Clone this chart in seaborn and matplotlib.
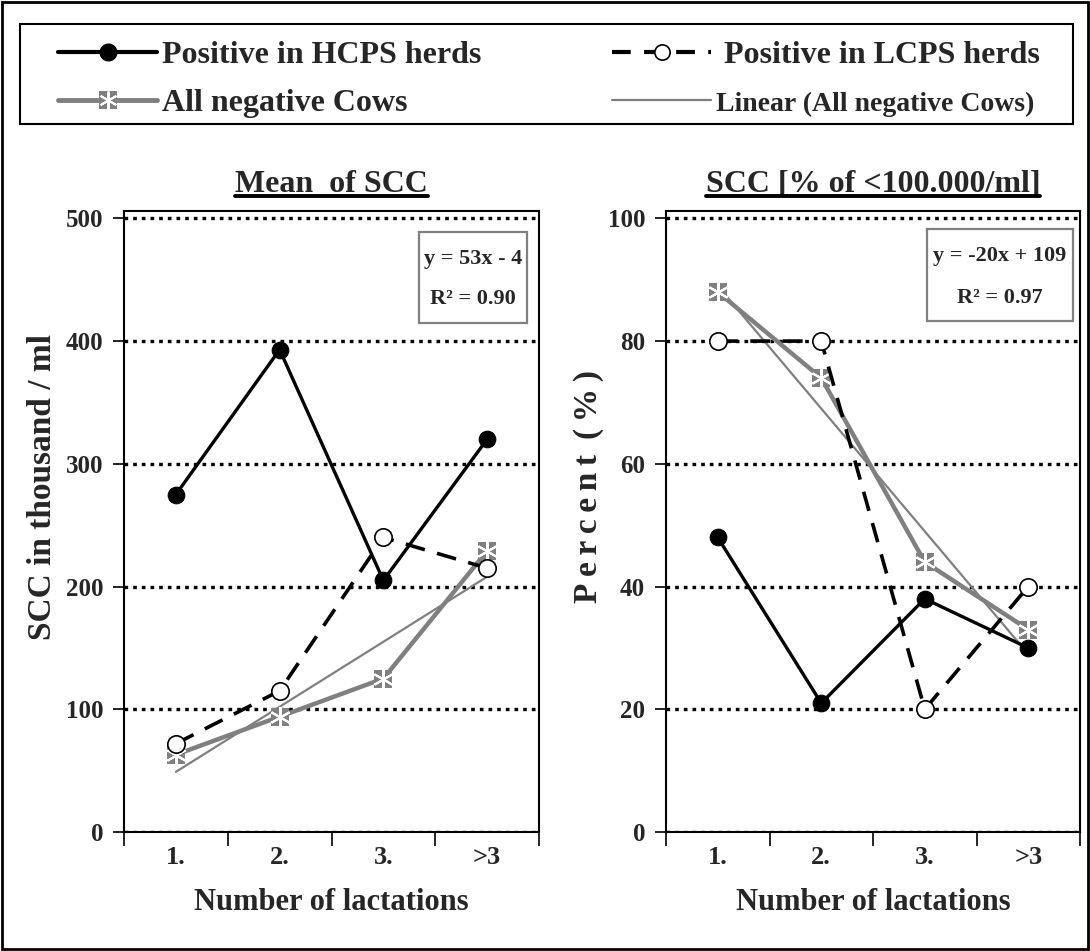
import numpy as np
import pandas as pd
import matplotlib
matplotlib.use("Agg")
import matplotlib.pyplot as plt
from matplotlib.lines import Line2D
from matplotlib.patches import Rectangle
from matplotlib.legend_handler import HandlerTuple
import seaborn as sns

# Lactation classes
lactations = ["1.", "2.", "3.", ">3"]

# Mean SCC (thousand / ml)
scc_hcps = [275, 393, 205, 320]
scc_lcps = [72, 115, 240, 215]
scc_neg = [63, 94, 125, 229]
scc_trend = (53, -4)          # y = 53x - 4
scc_r2 = "0.90"

# Share of samples below 100.000 cells / ml (%)
pct_hcps = [48, 21, 38, 30]
pct_lcps = [80, 80, 20, 40]
pct_neg = [88, 74, 44, 33]
pct_trend = (-20, 109)        # y = -20x + 109
pct_r2 = "0.97"

sns.set_theme(style="white")
plt.rcParams["font.family"] = ["Liberation Serif", "DejaVu Serif"]
plt.rcParams["font.weight"] = "bold"
plt.rcParams["axes.labelweight"] = "bold"
plt.rcParams["axes.titleweight"] = "bold"

GRAY = "#808080"
W, H = 1090, 951
fig = plt.figure(figsize=(W / 100, H / 100), dpi=100)
fig.patch.set_facecolor("white")

ax1 = fig.add_axes([124 / W, 119 / H, 415 / W, 621 / H])
ax2 = fig.add_axes([666 / W, 119 / H, 414 / W, 621 / H])

LCPS_DASH = (0, (5.5, 3.5))
STAR = (6, 2, 0)


def draw_panel(ax, hcps, lcps, neg, trend, r2, ymax, ystep, ylabel, ylabel_x, title, box, text_xy):
    x = np.arange(len(lactations)) + 0.5
    df = pd.DataFrame({"x": x, "hcps": hcps, "lcps": lcps, "neg": neg})

    # fitted trend of the negative cows, from category 1 to category 4
    xs = np.array([1, 4])
    trend_df = pd.DataFrame({"x": xs - 0.5, "y": trend[0] * xs + trend[1]})

    sns.lineplot(data=trend_df, x="x", y="y", ax=ax, color=GRAY, lw=1.6, zorder=3)
    sns.lineplot(data=df, x="x", y="neg", ax=ax, color=GRAY, lw=3.2, marker="s",
                 markersize=13.5, markeredgewidth=0, markerfacecolor=GRAY, zorder=4)
    sns.lineplot(data=df, x="x", y="neg", ax=ax, color="none", lw=0, marker=STAR,
                 markersize=15, markeredgewidth=1.5, markeredgecolor="white", zorder=5)
    sns.lineplot(data=df, x="x", y="lcps", ax=ax, color="black", lw=2.6,
                 linestyle=LCPS_DASH, marker="o", markersize=12.5,
                 markerfacecolor="white", markeredgecolor="black", markeredgewidth=1.2, zorder=6)
    sns.lineplot(data=df, x="x", y="hcps", ax=ax, color="black", lw=2.4, marker="o",
                 markersize=12, markerfacecolor="black", markeredgecolor="black", zorder=7)

    ax.set_xlim(0, 4)
    ax.set_ylim(0, ymax * 1.012)
    yt = np.arange(0, ymax + 1, ystep)
    ax.set_yticks(yt)
    ax.set_yticklabels([str(v) for v in yt], fontsize=18, fontweight="bold")
    ax.set_xticks([0, 1, 2, 3, 4])
    ax.set_xticklabels([])
    ax.set_xticks(x, minor=True)
    ax.set_xticklabels(lactations, minor=True, fontsize=19, fontweight="bold")
    ax.tick_params(axis="y", which="major", direction="out", length=8, width=1.2, color="black", pad=7, left=True)
    ax.tick_params(axis="x", which="major", direction="out", length=10, width=1.2, color="black", bottom=True)
    ax.tick_params(axis="x", which="minor", length=0, pad=10)

    ax.yaxis.grid(True, color="black", lw=2.4, linestyle=(0, (1.1, 1.5)))
    ax.xaxis.grid(False)
    ax.set_axisbelow(True)
    for s in ax.spines.values():
        s.set_visible(True)
        s.set_color("black")
        s.set_linewidth(1.5)

    ax.set_xlabel("Number of lactations", fontsize=22, fontweight="bold", labelpad=14)
    ax.set_ylabel(ylabel, fontsize=24, fontweight="bold")
    ax.yaxis.set_label_coords(ylabel_x, 0.556)
    ax.set_title(title, fontsize=23, fontweight="bold", pad=14)

    # regression equation in a gray box
    ax.add_patch(Rectangle((box[0], box[1]), box[2] - box[0], box[3] - box[1], transform=ax.transAxes,
                           facecolor="white", edgecolor=GRAY, lw=1.6, zorder=8))
    sign = "-" if trend[1] < 0 else "+"
    ax.text(text_xy[0], text_xy[1], f"y = {trend[0]}x {sign} {abs(trend[1])}", transform=ax.transAxes,
            ha="center", va="center", fontsize=16, fontweight="bold", zorder=9)
    ax.text(text_xy[0], text_xy[2], f"R² = {r2}", transform=ax.transAxes,
            ha="center", va="center", fontsize=16, fontweight="bold", zorder=9)


draw_panel(ax1, scc_hcps, scc_lcps, scc_neg, scc_trend, scc_r2, 500, 100,
           "SCC in thousand / ml", -0.158, "Mean  of SCC",
           (0.711, 0.820, 0.971, 0.966), (0.841, 0.922, 0.858))
draw_panel(ax2, pct_hcps, pct_lcps, pct_neg, pct_trend, pct_r2, 100, 20,
           "P\u2009e\u2009r\u2009c\u2009e\u2009n\u2009t\u2009 (\u2009%\u2009)", -0.150, "SCC [% of <100.000/ml]",
           (0.630, 0.823, 0.983, 0.971), (0.807, 0.927, 0.860))

# Shared legend across the top
h_hcps = Line2D([], [], color="black", lw=3, marker="o", markersize=12, markerfacecolor="black")
h_neg = (Line2D([], [], color=GRAY, lw=3.5, marker="s", markersize=13, markerfacecolor=GRAY, markeredgewidth=0),
         Line2D([], [], color="none", lw=0, marker=STAR, markersize=13, markeredgecolor="white",
                markeredgewidth=1.4))
h_lcps = Line2D([], [], color="black", lw=3, linestyle=(0, (4.5, 3.2)), marker="o", markersize=11,
                markerfacecolor="white", markeredgewidth=1.2)
h_lin = Line2D([], [], color=GRAY, lw=1.6)
labels = ["Positive in HCPS herds", "All negative Cows", " Positive in LCPS herds", "Linear (All negative Cows)"]
leg = fig.legend([h_hcps, h_neg, h_lcps, h_lin], labels, ncol=2, loc="upper left", mode="expand",
                 bbox_to_anchor=(58 / W, 1 - 124 / H, (1040 - 58) / W, 83 / H),
                 prop=dict(family="Liberation Serif", weight="bold", size=23),
                 handler_map={tuple: HandlerTuple(ndivide=1)},
                 frameon=False, handlelength=3.1, handletextpad=0.15, columnspacing=4,
                 borderpad=0, labelspacing=0.58, borderaxespad=0)
leg.get_texts()[3].set_fontsize(20)

# Legend frame
fig.add_artist(Rectangle((20 / W, 1 - 124 / H), (1073 - 20) / W, 100 / H, transform=fig.transFigure,
                         fill=False, edgecolor="black", lw=1.5))

# Underline the panel titles
fig.canvas.draw()
renderer = fig.canvas.get_renderer()
for ax in (ax1, ax2):
    bb = ax.title.get_window_extent(renderer)
    fig.add_artist(Line2D([bb.x0 / W, bb.x1 / W], [(bb.y0 + 3) / H] * 2,
                          transform=fig.transFigure, color="black", lw=2.8))

# Outer frame
fig.add_artist(Rectangle((0.002, 0.002), 0.996, 0.996, transform=fig.transFigure,
                         fill=False, edgecolor="black", lw=2))

fig.savefig("out.png", dpi=100, facecolor="white")
